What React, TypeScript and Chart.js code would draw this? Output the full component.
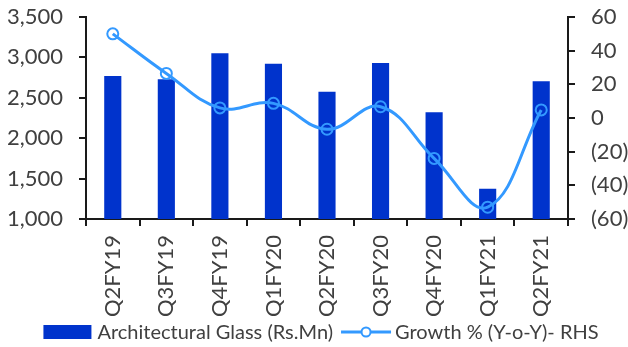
import React, { useEffect, useRef } from 'react';
import { Chart, registerables } from 'chart.js';

Chart.register(...registerables);

// Quarterly architectural glass revenue and its year-on-year growth
const quarters = ['Q2FY19', 'Q3FY19', 'Q4FY19', 'Q1FY20', 'Q2FY20', 'Q3FY20', 'Q4FY20', 'Q1FY21', 'Q2FY21'];
const glassRevenue = [2770, 2730, 3050, 2920, 2575, 2930, 2320, 1375, 2705];
const growthPct = [50, 26.5, 6, 8.7, -6.7, 6.7, -24, -53, 4.8];

const revenueLabel = 'Architectural Glass (Rs.Mn)';
const growthLabel = 'Growth % (Y-o-Y)- RHS';

// Axis ranges
const leftAxis = { min: 1000, max: 3500, step: 500 };
const rightAxis = { min: -60, max: 60, step: 20 };

const BAR_COLOR = '#0033CC';
const LINE_COLOR = '#3399FF';
const TEXT_COLOR = '#404040';
const AXIS_COLOR = '#1a1a1a';
const FONT = 'Lato, "Open Sans", sans-serif';

const fmtThousands = (v: number) => v.toLocaleString('en-US');
const fmtParen = (v: number) => (v < 0 ? `(${Math.abs(v)})` : `${v}`);

// Legend drawn under the axis labels: a filled box for the bars,
// a line with a hollow circle for the growth series.
const bottomLegend = {
  id: 'bottomLegend',
  afterDraw(chart: any) {
    const { ctx, chartArea } = chart;
    const ds = chart.data.datasets;
    const y = 332;
    ctx.save();
    ctx.font = `20px ${FONT}`;
    ctx.textBaseline = 'middle';
    ctx.fillStyle = TEXT_COLOR;
    const boxW = 48;
    const lineW = 50;
    const w0 = boxW + 6 + ctx.measureText(ds[0].label).width;
    const w1 = lineW + 4 + ctx.measureText(ds[1].label).width;
    const total = w0 + 8 + w1;
    let x = (chartArea.left + chartArea.right) / 2 - 6 - total / 2;

    ctx.fillStyle = ds[0].backgroundColor;
    ctx.fillRect(x, y - 7, boxW, 14);
    x += boxW + 6;
    ctx.fillStyle = TEXT_COLOR;
    ctx.fillText(ds[0].label, x, y + 1);
    x += ctx.measureText(ds[0].label).width + 8;

    ctx.strokeStyle = ds[1].borderColor;
    ctx.lineWidth = 3;
    ctx.beginPath();
    ctx.moveTo(x, y);
    ctx.lineTo(x + lineW, y);
    ctx.stroke();
    ctx.lineWidth = 2;
    ctx.beginPath();
    ctx.arc(x + lineW / 2, y, 4.5, 0, Math.PI * 2);
    ctx.fillStyle = '#ffffff';
    ctx.fill();
    ctx.stroke();
    x += lineW + 4;
    ctx.fillStyle = TEXT_COLOR;
    ctx.fillText(ds[1].label, x, y + 1);
    ctx.restore();
  },
};

// Keep tick-label overhang from pushing the plot area around
const noPadding = (scale: any) => {
  scale.paddingTop = 0;
  scale.paddingBottom = 0;
  scale.paddingLeft = 0;
  scale.paddingRight = 0;
};

export default function App() {
  const canvasRef = useRef<HTMLCanvasElement | null>(null);

  useEffect(() => {
    if (!canvasRef.current) return;
    const chart = new Chart(canvasRef.current, {
      type: 'bar',
      data: {
        labels: quarters,
        datasets: [
          {
            type: 'bar',
            label: revenueLabel,
            data: glassRevenue,
            backgroundColor: BAR_COLOR,
            borderWidth: 0,
            barPercentage: 0.32,
            categoryPercentage: 1,
            yAxisID: 'y',
            order: 2,
          },
          {
            type: 'line',
            label: growthLabel,
            data: growthPct,
            borderColor: LINE_COLOR,
            borderWidth: 3,
            tension: 0.4,
            pointRadius: 5.5,
            pointBorderWidth: 2,
            pointBackgroundColor: 'rgba(255,255,255,0)',
            pointBorderColor: LINE_COLOR,
            yAxisID: 'y1',
            order: 1,
          } as any,
        ],
      },
      options: {
        animation: false,
        responsive: false,
        maintainAspectRatio: false,
        layout: { padding: { top: 17, left: 0, right: 0, bottom: 0 } },
        plugins: {
          legend: { display: false },
          tooltip: { enabled: false },
        },
        scales: {
          x: {
            offset: true,
            grid: {
              offset: true,
              drawOnChartArea: false,
              drawTicks: true,
              tickLength: 7,
              color: AXIS_COLOR,
              lineWidth: 2,
            },
            border: { color: AXIS_COLOR, width: 2 },
            ticks: {
              color: TEXT_COLOR,
              font: { family: FONT, size: 22 },
              minRotation: 90,
              maxRotation: 90,
              padding: 9,
              autoSkip: false,
            },
            afterFit: (scale: any) => {
              scale.height = 128;
              noPadding(scale);
            },
          },
          y: {
            position: 'left',
            min: leftAxis.min,
            max: leftAxis.max,
            grid: {
              drawOnChartArea: false,
              tickLength: 7,
              color: AXIS_COLOR,
              lineWidth: 2,
            },
            border: { color: AXIS_COLOR, width: 2 },
            ticks: {
              stepSize: leftAxis.step,
              color: TEXT_COLOR,
              font: { family: FONT, size: 22 },
              padding: 16,
              callback: (v: any) => fmtThousands(Number(v)),
            },
            afterFit: (scale: any) => {
              scale.width = 86;
              noPadding(scale);
            },
          },
          y1: {
            position: 'right',
            min: rightAxis.min,
            max: rightAxis.max,
            grid: {
              drawOnChartArea: false,
              tickLength: 7,
              color: AXIS_COLOR,
              lineWidth: 2,
            },
            border: { color: AXIS_COLOR, width: 2 },
            ticks: {
              stepSize: rightAxis.step,
              color: TEXT_COLOR,
              font: { family: FONT, size: 22 },
              padding: 16,
              callback: (v: any) => fmtParen(Number(v)),
            },
            afterFit: (scale: any) => {
              scale.width = 60;
              noPadding(scale);
            },
          },
        },
      },
      plugins: [bottomLegend],
    });
    return () => chart.destroy();
  }, []);

  return (
    <div style={{ position: 'absolute', left: 0, top: 0, width: 628, height: 347, background: '#ffffff' }}>
      <canvas ref={canvasRef} width={628} height={347} style={{ display: 'block', width: 628, height: 347 }} />
    </div>
  );
}
